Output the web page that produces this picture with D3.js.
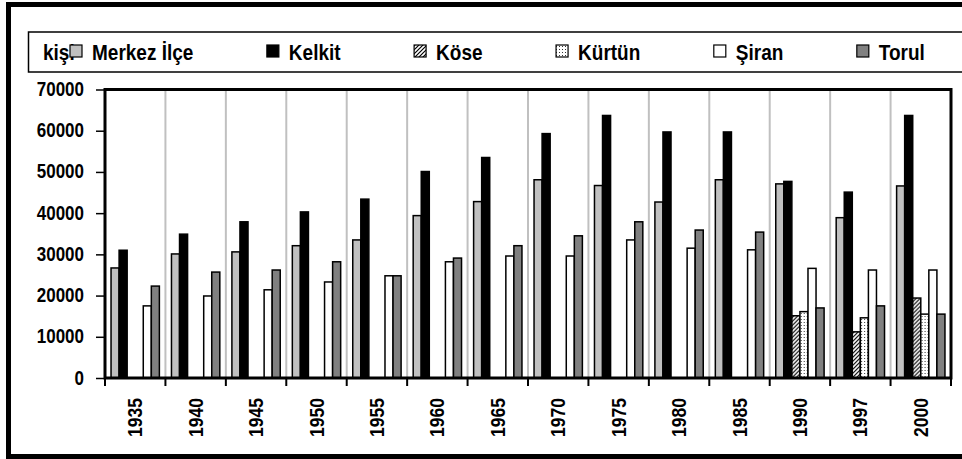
<!DOCTYPE html>
<html>
<head>
<meta charset="utf-8">
<script src="https://cdn.jsdelivr.net/npm/d3@7"></script>
<style>
body { margin: 0; background: #fff; }
svg text { font-family: Arial, "Liberation Sans", sans-serif; font-weight: bold; fill: #000; }
</style>
</head>
<body>
<div id="chart"></div>
<script>
var years = ["1935", "1940", "1945", "1950", "1955", "1960", "1965", "1970", "1975", "1980", "1985", "1990", "1997", "2000"];
var seriesNames = ["Merkez İlçe", "Kelkit", "Köse", "Kürtün", "Şiran", "Torul"];
var merkez = [26700, 30100, 30600, 32100, 33500, 39400, 42800, 48100, 46700, 42700, 48100, 47100, 38900, 46600];
var kelkit = [31000, 34900, 37900, 40300, 43400, 50100, 53500, 59300, 63700, 59700, 59700, 47700, 45100, 63700];
var kose = [null, null, null, null, null, null, null, null, null, null, null, 15100, 11200, 19400];
var kurtun = [null, null, null, null, null, null, null, null, null, null, null, 16100, 14600, 15500];
var siran = [17500, 19900, 21400, 23300, 24800, 28200, 29600, 29600, 33500, 31500, 31100, 26600, 26200, 26200];
var torul = [22300, 25700, 26200, 28200, 24800, 29100, 32100, 34500, 37900, 35900, 35400, 17000, 17500, 15500];
var yTicks = [0, 10000, 20000, 30000, 40000, 50000, 60000, 70000];
var unitLabel = "kişi";

var allSeries = [merkez, kelkit, kose, kurtun, siran, torul];
var fills = ["#c0c0c0", "#000000", "url(#hatch)", "url(#dots)", "#ffffff", "#808080"];

var width = 962, height = 459;
var svg = d3.select("#chart").append("svg")
    .attr("width", width)
    .attr("height", height);

var defs = svg.append("defs");
var hatch = defs.append("pattern")
    .attr("id", "hatch")
    .attr("patternUnits", "userSpaceOnUse")
    .attr("width", 4).attr("height", 4);
hatch.append("rect").attr("width", 4).attr("height", 4).attr("fill", "#fff");
hatch.append("path")
    .attr("d", "M-1,1 l2,-2 M0,4 l4,-4 M3,5 l2,-2")
    .attr("stroke", "#000").attr("stroke-width", 1.2);
var dots = defs.append("pattern")
    .attr("id", "dots")
    .attr("patternUnits", "userSpaceOnUse")
    .attr("width", 3).attr("height", 3);
dots.append("rect").attr("width", 3).attr("height", 3).attr("fill", "#fff");
dots.append("rect").attr("x", 1).attr("y", 1).attr("width", 1).attr("height", 1).attr("fill", "#333");

// outer frame
svg.append("rect")
    .attr("x", 8.5).attr("y", 4.5)
    .attr("width", 970).attr("height", 452)
    .attr("fill", "none").attr("stroke", "#000").attr("stroke-width", 5);

var plotL = 105, plotR = 951, plotT = 89.5, plotB = 378;

var x0 = d3.scaleBand().domain(years).range([plotL, plotR]).padding(0);
var x1 = d3.scaleBand().domain(d3.range(seriesNames.length))
    .range([x0.bandwidth() * 0.1, x0.bandwidth() * 0.9]).padding(0);
var y = d3.scaleLinear().domain([0, 70000]).range([plotB, plotT]);

// vertical gridlines
svg.append("g").selectAll("line")
    .data(years.slice(1))
    .enter().append("line")
    .attr("x1", function(d) { return x0(d); })
    .attr("x2", function(d) { return x0(d); })
    .attr("y1", plotT).attr("y2", plotB)
    .attr("stroke", "#c0c0c0").attr("stroke-width", 2);

// bars
var groups = svg.append("g").selectAll("g")
    .data(years)
    .enter().append("g")
    .attr("transform", function(d) { return "translate(" + x0(d) + ",0)"; });

groups.selectAll("rect")
    .data(function(d, i) {
        return allSeries.map(function(s, k) { return {k: k, v: s[i]}; })
            .filter(function(e) { return e.v != null; });
    })
    .enter().append("rect")
    .attr("x", function(d) { return x1(d.k); })
    .attr("width", x1.bandwidth())
    .attr("y", function(d) { return y(d.v); })
    .attr("height", function(d) { return plotB - y(d.v); })
    .attr("fill", function(d) { return fills[d.k]; })
    .attr("stroke", "#000").attr("stroke-width", 1.5);

// plot frame
svg.append("rect")
    .attr("x", plotL).attr("y", plotT)
    .attr("width", plotR - plotL).attr("height", plotB - plotT)
    .attr("fill", "none").attr("stroke", "#000").attr("stroke-width", 3);

// y axis
var yAxis = d3.axisLeft(y).tickValues(yTicks).tickFormat(d3.format("d")).tickSize(9).tickPadding(12);
var gy = svg.append("g").attr("transform", "translate(" + plotL + ",0)").call(yAxis);
gy.select(".domain").remove();
gy.selectAll(".tick line").attr("stroke", "#000").attr("stroke-width", 1.5);
gy.selectAll(".tick text")
    .attr("font-family", null).attr("font-size", null)
    .style("font-size", "17px")
    .attr("dy", "0.3em")
    .attr("transform", "scale(1,1.18)");

// x axis ticks at category boundaries
var bounds = years.map(function(d) { return x0(d); }).concat([plotR]);
svg.append("g").selectAll("line")
    .data(bounds)
    .enter().append("line")
    .attr("x1", function(d) { return d; }).attr("x2", function(d) { return d; })
    .attr("y1", plotB).attr("y2", plotB + 8)
    .attr("stroke", "#000").attr("stroke-width", 2);

svg.append("g").selectAll("text")
    .data(years)
    .enter().append("text")
    .attr("transform", function(d) {
        return "translate(" + (x0(d) + x0.bandwidth() / 2 + 7) + ",398) rotate(-90) scale(1,1.2)";
    })
    .attr("text-anchor", "end")
    .style("font-size", "17.5px")
    .text(function(d) { return d; });

// legend
svg.append("rect")
    .attr("x", 28.5).attr("y", 32)
    .attr("width", 960).attr("height", 40)
    .attr("fill", "#fff").attr("stroke", "#000").attr("stroke-width", 1.5);

var legend = svg.append("g");
legend.append("text")
    .attr("transform", "translate(43,60) scale(1,1.15)")
    .style("font-size", "19px")
    .text(unitLabel);

var lx = 70;
seriesNames.forEach(function(name, k) {
    legend.append("rect")
        .attr("x", lx).attr("y", 45)
        .attr("width", 12).attr("height", 12)
        .attr("fill", fills[k]).attr("stroke", "#000").attr("stroke-width", 1.2);
    var t = legend.append("text")
        .attr("transform", "translate(" + (lx + 22) + ",60) scale(1,1.15)")
        .style("font-size", "19px")
        .text(name);
    lx = lx + 22 + t.node().getComputedTextLength() + 73.5;
});
</script>
</body>
</html>
